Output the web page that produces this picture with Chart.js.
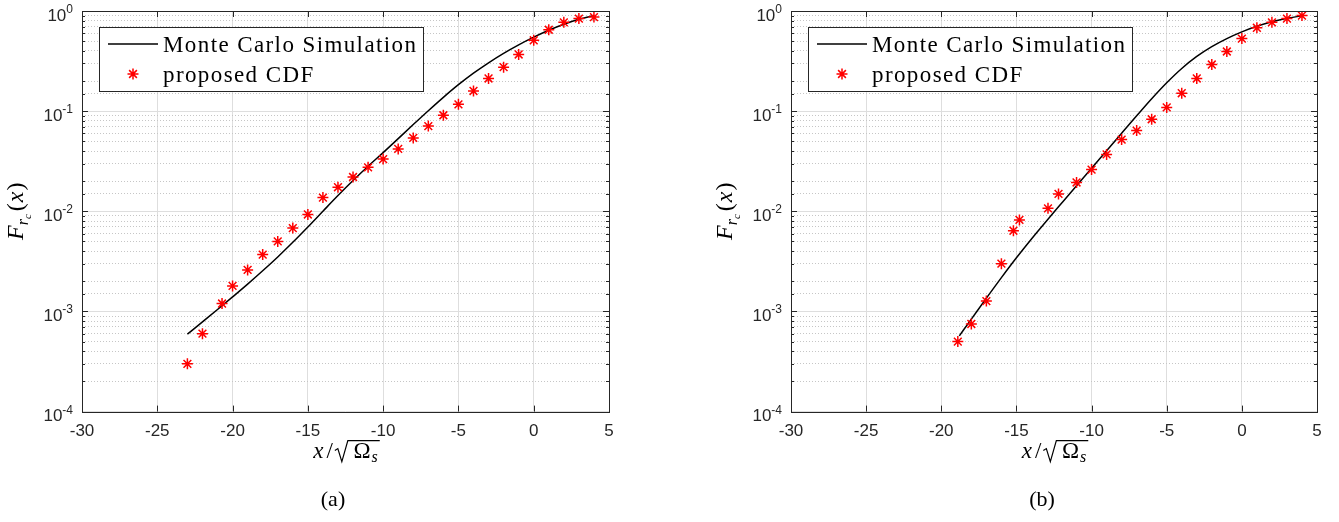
<!DOCTYPE html>
<html>
<head>
<meta charset="utf-8">
<script src="https://cdn.jsdelivr.net/npm/chart.js@4.4.1/dist/chart.umd.min.js"></script>
<style>
html, body { margin: 0; padding: 0; background: #fff; }
body { width: 1339px; height: 522px; position: relative; overflow: hidden; }
.panel { position: absolute; top: 0; width: 669px; height: 522px; }
.caption { position: absolute; top: 487px; font: 22px "Liberation Serif", serif; line-height: 24px; color: #000; transform: translateX(-50%); }
</style>
</head>
<body>
<div class="panel" style="left:0"><canvas id="chartA"></canvas></div>
<div class="panel" style="left:670px"><canvas id="chartB"></canvas></div>
<div class="caption" style="left:333px">(a)</div>
<div class="caption" style="left:1042px">(b)</div>
<script>
// eje x y decadas del eje y
const xTicks = [-30, -25, -20, -15, -10, -5, 0, 5];
const yDecades = [-4, -3, -2, -1, 0];

// (a) Monte Carlo
const mcXa = [-23, -22, -21, -20, -19, -18, -17, -16, -15, -14, -13, -12, -11, -10, -9, -8, -7, -6, -5, -4, -3, -2, -1, 0, 1, 2, 3, 4];
const mcYa = [5.93e-4, 7.87e-4, 1.045e-3, 1.396e-3, 1.875e-3, 2.547e-3, 3.50e-3, 4.90e-3, 6.97e-3, 1.002e-2, 1.436e-2, 2.028e-2, 2.818e-2, 3.855e-2, 5.32e-2, 7.35e-2, 0.101, 0.1374, 0.1837, 0.2393, 0.304, 0.3776, 0.4592, 0.548, 0.6427, 0.738, 0.828, 0.902];
// (a) CDF propuesta
const cdfXa = [-23, -22, -20.7, -20, -19, -18, -17, -16, -15, -14, -13, -12, -11, -10, -9, -8, -7, -6, -5, -4, -3, -2, -1, 0, 1, 2, 3, 4];
const cdfYa = [3.0e-4, 6.0e-4, 1.2e-3, 1.8e-3, 2.6e-3, 3.7e-3, 5.0e-3, 6.8e-3, 9.3e-3, 1.37e-2, 1.74e-2, 2.2e-2, 2.75e-2, 3.32e-2, 4.2e-2, 5.4e-2, 7.1e-2, 9.1e-2, 0.117, 0.159, 0.212, 0.275, 0.368, 0.51, 0.65, 0.77, 0.84, 0.87];

// (b) Monte Carlo
const mcXb = [-18.8, -18, -17, -16, -15, -14, -13, -12, -11, -10, -9, -8, -7, -6, -5, -4, -3, -2, -1, 0, 1, 2, 3, 4];
const mcYb = [5.71e-4, 8.39e-4, 1.358e-3, 2.178e-3, 3.436e-3, 5.30e-3, 8.02e-3, 1.202e-2, 1.80e-2, 2.69e-2, 4.03e-2, 6.03e-2, 0.0899, 0.133, 0.192, 0.2667, 0.3516, 0.4406, 0.53, 0.619, 0.703, 0.78, 0.845, 0.895];
// (b) CDF propuesta
const cdfXb = [-18.9, -18, -17, -16, -15.2, -14.8, -12.9, -12.2, -11, -10, -9, -8, -7, -6, -5, -4, -3, -2, -1, 0, 1, 2, 3, 4];
const cdfYb = [5.0e-4, 7.5e-4, 1.27e-3, 3.0e-3, 6.4e-3, 8.2e-3, 1.07e-2, 1.49e-2, 1.94e-2, 2.61e-2, 3.7e-2, 5.2e-2, 6.4e-2, 8.3e-2, 0.109, 0.151, 0.212, 0.292, 0.394, 0.53, 0.68, 0.77, 0.84, 0.90];

const legendLabels = ['Monte Carlo Simulation', 'proposed CDF'];

const AXIS = '#262626';
const SERIF = '"Liberation Serif", "Times New Roman", serif';
const SANS = '"Liberation Sans", Arial, sans-serif';

function esDecada(v) {
    const l = Math.log10(v);
    return Math.abs(l - Math.round(l)) < 1e-9;
}

function dibujarEstrella(ctx, x, y, r) {
    const d = r * Math.SQRT1_2;
    ctx.beginPath();
    ctx.moveTo(x - r, y); ctx.lineTo(x + r, y);
    ctx.moveTo(x, y - r); ctx.lineTo(x, y + r);
    ctx.moveTo(x - d, y - d); ctx.lineTo(x + d, y + d);
    ctx.moveTo(x - d, y + d); ctx.lineTo(x + d, y - d);
    ctx.stroke();
}

// dibuja trozos de texto seguidos, centrados en cx
function dibujarTrozos(ctx, trozos, cx, base) {
    let total = 0;
    trozos.forEach(t => {
        ctx.font = t.f;
        t.w = ctx.measureText(t.t).width + (t.gap || 0);
        total += t.w;
    });
    let x = cx - total / 2;
    ctx.textAlign = 'left';
    ctx.textBaseline = 'alphabetic';
    trozos.forEach(t => {
        ctx.font = t.f;
        ctx.fillText(t.t, x + (t.gap || 0), base + (t.dy || 0));
        x += t.w;
    });
    return {start: cx - total / 2, end: x};
}

const marcoMatlab = {
    id: 'marcoMatlab',
    afterDraw(chart) {
        const ctx = chart.ctx;
        const a = chart.chartArea;
        const sx = chart.scales.x, sy = chart.scales.y;
        ctx.save();

        // marcas hacia adentro
        ctx.strokeStyle = AXIS;
        ctx.lineWidth = 1;
        ctx.beginPath();
        sy.ticks.forEach(t => {
            const py = Math.round(sy.getPixelForValue(t.value)) + 0.5;
            const len = esDecada(t.value) ? 6 : 3;
            ctx.moveTo(a.left, py); ctx.lineTo(a.left + len, py);
            ctx.moveTo(a.right, py); ctx.lineTo(a.right - len, py);
        });
        xTicks.forEach(v => {
            const px = Math.round(sx.getPixelForValue(v)) + 0.5;
            ctx.moveTo(px, a.bottom); ctx.lineTo(px, a.bottom - 6);
            ctx.moveTo(px, a.top); ctx.lineTo(px, a.top + 6);
        });
        ctx.stroke();
        ctx.strokeRect(Math.round(a.left) + 0.5, Math.round(a.top) + 0.5, Math.round(a.width), Math.round(a.height));

        // etiquetas 10^n
        ctx.fillStyle = AXIS;
        ctx.textBaseline = 'alphabetic';
        ctx.textAlign = 'right';
        yDecades.forEach(e => {
            const py = sy.getPixelForValue(Math.pow(10, e));
            const exp = String(e);
            const right = a.left - 9;
            ctx.font = '12px ' + SANS;
            ctx.fillText(exp, right, py + 2);
            const w = ctx.measureText(exp).width;
            ctx.font = '17px ' + SANS;
            ctx.fillText('10', right - w, py + 9.5);
        });

        // titulo eje y
        ctx.fillStyle = '#000';
        ctx.save();
        ctx.translate(a.left - 59, (a.top + a.bottom) / 2);
        ctx.rotate(-Math.PI / 2);
        dibujarTrozos(ctx, [
            {t: 'F', f: 'italic 24px ' + SERIF},
            {t: 'r', f: 'italic 16px ' + SERIF, dy: 5},
            {t: 'c', f: 'italic 11px ' + SERIF, dy: 8},
            {t: '(', f: '24px ' + SERIF, gap: 3},
            {t: 'x', f: 'italic 24px ' + SERIF, gap: 1},
            {t: ')', f: '24px ' + SERIF, gap: 1}
        ], 0, 0);
        ctx.restore();

        // titulo eje x: x/sqrt(Omega_s)
        const base = a.bottom + 46;
        const cx = (a.left + a.right) / 2;
        const trozos = [
            {t: 'x', f: 'italic 23px ' + SERIF},
            {t: '/', f: '23px ' + SERIF, gap: 3},
            {t: '\u2009', f: '23px ' + SERIF, gap: 15},
            {t: '\u03A9', f: '23px ' + SERIF, gap: 1},
            {t: 's', f: 'italic 16px ' + SERIF, dy: 4, gap: 1}
        ];
        const pos = dibujarTrozos(ctx, trozos, cx, base);
        const rx = pos.start + trozos[0].w + trozos[1].w + 2;
        ctx.strokeStyle = '#000';
        ctx.lineWidth = 1.2;
        ctx.beginPath();
        ctx.moveTo(rx, base - 7);
        ctx.lineTo(rx + 3, base - 9);
        ctx.lineTo(rx + 7, base + 4);
        ctx.lineTo(rx + 13, base - 17);
        ctx.lineTo(pos.end + 2, base - 17);
        ctx.stroke();

        // leyenda
        const bx = Math.round(a.left) + 17, by = Math.round(a.top) + 16, bw = 324, bh = 64;
        ctx.fillStyle = '#fff';
        ctx.fillRect(bx, by, bw, bh);
        ctx.strokeStyle = AXIS;
        ctx.lineWidth = 1;
        ctx.strokeRect(bx + 0.5, by + 0.5, bw, bh);
        ctx.strokeStyle = '#000';
        ctx.lineWidth = 1.5;
        ctx.beginPath();
        ctx.moveTo(bx + 9, by + 17); ctx.lineTo(bx + 59, by + 17);
        ctx.stroke();
        ctx.strokeStyle = '#ff0000';
        dibujarEstrella(ctx, bx + 34, by + 47, 5.5);
        ctx.fillStyle = '#000';
        ctx.font = '23px ' + SERIF;
        ctx.letterSpacing = '1.4px';
        ctx.textAlign = 'left';
        ctx.fillText(legendLabels[0], bx + 64, by + 25);
        ctx.fillText(legendLabels[1], bx + 64, by + 55);
        ctx.letterSpacing = '0px';

        ctx.restore();
    }
};

function crearGrafico(id, lineX, lineY, markX, markY, padLeft, padRight) {
    const datosLinea = lineX.map((x, i) => ({x: x, y: lineY[i]}));
    const datosMarcas = markX.map((x, i) => ({x: x, y: markY[i]}));
    return new Chart(document.getElementById(id), {
        type: 'scatter',
        data: {
            datasets: [
                {
                    label: legendLabels[0],
                    data: datosLinea,
                    showLine: true,
                    borderColor: '#000',
                    borderWidth: 1.5,
                    pointRadius: 0,
                    cubicInterpolationMode: 'monotone',
                    order: 2
                },
                {
                    label: legendLabels[1],
                    data: datosMarcas,
                    pointStyle: 'star',
                    pointRadius: 5.5,
                    pointBorderColor: '#ff0000',
                    pointBorderWidth: 1.5,
                    borderColor: '#ff0000',
                    order: 1
                }
            ]
        },
        options: {
            responsive: true,
            maintainAspectRatio: false,
            animation: false,
            layout: { padding: { left: padLeft, right: padRight, top: 11, bottom: 70 } },
            plugins: { legend: { display: false }, tooltip: { enabled: false } },
            scales: {
                x: {
                    type: 'linear', min: -30, max: 5,
                    afterBuildTicks: s => { s.ticks = xTicks.map(v => ({value: v})); },
                    ticks: { font: { family: 'Liberation Sans', size: 17 }, color: AXIS, padding: 10, maxRotation: 0, autoSkip: false, callback: v => String(v) },
                    grid: { color: '#dedede', drawTicks: false },
                    border: { display: false }
                },
                y: {
                    type: 'logarithmic', min: 1e-4, max: 1,
                    ticks: { display: false },
                    grid: { drawTicks: false, color: c => (c.tick && esDecada(c.tick.value)) ? '#dedede' : '#c6c6c6' },
                    border: { display: false, dash: c => (c.tick && !esDecada(c.tick.value)) ? [1, 2] : [] }
                }
            }
        },
        plugins: [marcoMatlab]
    });
}

crearGrafico('chartA', mcXa, mcYa, cdfXa, cdfYa, 82, 60);
crearGrafico('chartB', mcXb, mcYb, cdfXb, cdfYb, 121, 22);
</script>
</body>
</html>
